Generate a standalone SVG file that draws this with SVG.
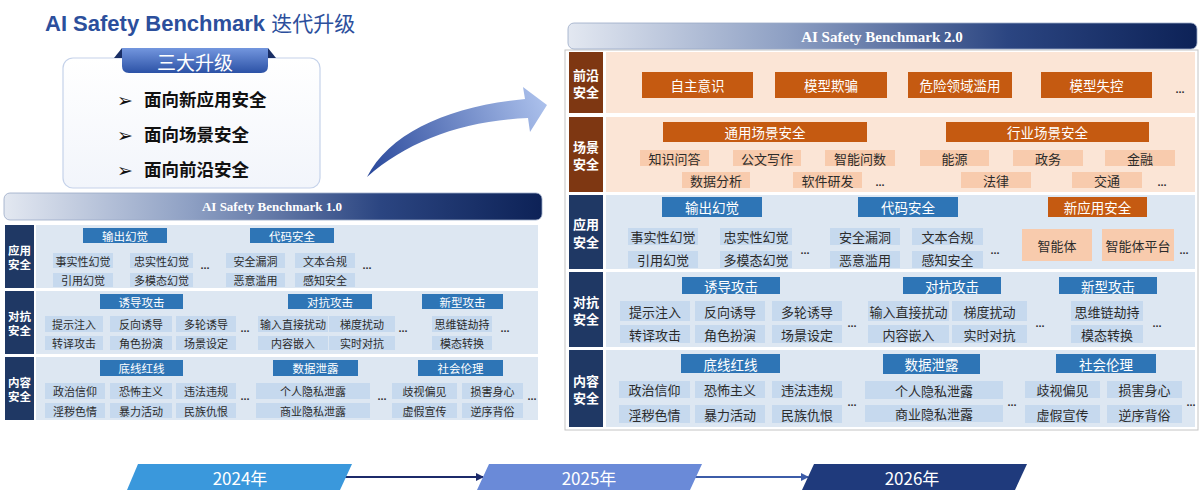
<svg xmlns="http://www.w3.org/2000/svg" width="1200" height="492" viewBox="0 0 1200 492">
<defs>
<linearGradient id="gBar" x1="0" y1="0" x2="1" y2="0">
<stop offset="0" stop-color="#e3e8f1"/><stop offset="0.35" stop-color="#8d9fc3"/><stop offset="0.7" stop-color="#2b4581"/><stop offset="1" stop-color="#0d2257"/>
</linearGradient>
<linearGradient id="gTab" x1="0" y1="0" x2="0" y2="1">
<stop offset="0" stop-color="#7396de"/><stop offset="1" stop-color="#2c52a6"/>
</linearGradient>
<linearGradient id="gBox" x1="0" y1="0" x2="0" y2="1">
<stop offset="0" stop-color="#ffffff"/><stop offset="1" stop-color="#f2f5fb"/>
</linearGradient>
<linearGradient id="gArrow" gradientUnits="userSpaceOnUse" x1="367" y1="177" x2="547" y2="105">
<stop offset="0" stop-color="#28479a"/><stop offset="1" stop-color="#acc1ec"/>
</linearGradient>
<marker id="mA1" viewBox="0 0 8 8" refX="7" refY="4" markerWidth="8" markerHeight="8" orient="auto" markerUnits="userSpaceOnUse">
<path d="M0,0 L8,4 L0,8 Z" fill="#1c2a6a"/>
</marker>
<marker id="mA2" viewBox="0 0 8 8" refX="7" refY="4" markerWidth="8" markerHeight="8" orient="auto" markerUnits="userSpaceOnUse">
<path d="M0,0 L8,4 L0,8 Z" fill="#3c5ca8"/>
</marker>
</defs>
<style>
.t{font-family:"Noto Sans CJK SC","Noto Sans",sans-serif;text-anchor:middle;dominant-baseline:central}
.s{font-size:11px;fill:#2b2b2b}
.sh{font-size:11.5px;fill:#ffffff}
.m{font-size:13px;fill:#2b2b2b}
.mh{font-size:13.5px;fill:#ffffff}
.lb{font-size:11.5px;font-weight:bold;fill:#ffffff}
.rb{font-size:13px;font-weight:bold;fill:#ffffff}
.dots{font-family:"Liberation Sans",sans-serif;font-weight:bold;font-size:11px;fill:#333;text-anchor:middle}
.nav{fill:#1f3864}
.brn{fill:#7e3712}
.cb{fill:#dde7f2}
.cp{fill:#fbe5d6}
.hb{fill:#2e75b6}
.ho{fill:#c55a11}
.ib{fill:#c6d9ee}
.io{fill:#f8cbad}
.bar{fill:url(#gBar)}
.bt{font-family:"Liberation Serif",serif;font-weight:bold;fill:#ffffff;text-anchor:middle;dominant-baseline:central}
.up{font-family:"Noto Sans CJK SC",sans-serif;font-weight:bold;font-size:17.5px;fill:#111}
.ar{font-family:"DejaVu Sans",sans-serif;font-size:19px;fill:#111}
.tl{font-family:"Noto Sans CJK SC",sans-serif;font-size:17px;fill:#ffffff;text-anchor:middle;dominant-baseline:central}
</style>
<rect width="1200" height="492" fill="#ffffff"/>

<!-- Title -->
<g id="title">
<text x="45" y="31" font-family="Liberation Sans,Arial,sans-serif" font-weight="bold" font-size="22" fill="#2c4f9c">AI Safety Benchmark <tspan font-family="Noto Sans CJK SC,sans-serif" font-weight="normal" font-size="21">迭代升级</tspan></text>
</g>

<!-- Upgrade box -->
<g id="upgrade-box">
<rect x="63" y="58" width="257" height="130" rx="10" fill="url(#gBox)" stroke="#c5d2ea" stroke-width="1.2"/>
<polygon points="114,58 122,48 122,58" fill="#1a2f66"/>
<polygon points="276,58 268,48 268,58" fill="#1a2f66"/>
<path d="M122,48 H268 V66 Q268,73 261,73 H129 Q122,73 122,66 Z" fill="url(#gTab)"/>
<text x="195" y="61" class="t" font-size="19" fill="#ffffff">三大升级</text>
<text x="117" y="107" class="ar">➢</text>
<text x="144" y="106" class="up">面向新应用安全</text>
<text x="117" y="142" class="ar">➢</text>
<text x="144" y="141" class="up">面向场景安全</text>
<text x="117" y="177" class="ar">➢</text>
<text x="144" y="176" class="up">面向前沿安全</text>
</g>

<!-- Curved arrow -->
<g id="curve-arrow">
<path d="M367,177 C390,132 450,106 525,99 L523,87 L547,105 L530,132 L528,118 C462,121 408,141 367,177 Z" fill="url(#gArrow)"/>
</g>

<!-- ===== Benchmark 1.0 ===== -->
<g id="bm1-header">
<rect x="4" y="193" width="538" height="27" rx="6" class="bar" stroke="#9aa9c6" stroke-width="0.8"/>
<text x="272" y="206.5" class="bt" font-size="13">AI Safety Benchmark 1.0</text>
</g>

<g id="bm1-row-app">
<rect x="5" y="225" width="29" height="63" class="nav"/>
<text x="19.5" y="249.5" class="t lb">应用<tspan x="19.5" dy="14">安全</tspan></text>
<rect x="36" y="225" width="502" height="63" class="cb"/>
</g>
<g id="bm1-row-adv">
<rect x="5" y="291" width="29" height="63" class="nav"/>
<text x="19.5" y="315.5" class="t lb">对抗<tspan x="19.5" dy="14">安全</tspan></text>
<rect x="36" y="291" width="502" height="63" class="cb"/>
</g>
<g id="bm1-row-content">
<rect x="5" y="357" width="29" height="63" class="nav"/>
<text x="19.5" y="381.5" class="t lb">内容<tspan x="19.5" dy="14">安全</tspan></text>
<rect x="36" y="357" width="502" height="63" class="cb"/>
</g>

<!-- row 1 -->
<g id="l-h-hallu"><rect x="83" y="228" width="84" height="15" class="hb"/><text x="125" y="235.5" class="t sh">输出幻觉</text></g>
<g id="l-h-code"><rect x="250" y="228" width="84" height="15" class="hb"/><text x="292" y="235.5" class="t sh">代码安全</text></g>
<g id="l-i-fact"><rect x="53" y="253" width="60" height="15" class="ib"/><text x="83" y="260.5" class="t s">事实性幻觉</text></g>
<g id="l-i-faith"><rect x="130" y="253" width="63" height="15" class="ib"/><text x="161.5" y="260.5" class="t s">忠实性幻觉</text></g>
<g id="l-i-cite"><rect x="53" y="273" width="60" height="14" class="ib"/><text x="83" y="280" class="t s">引用幻觉</text></g>
<g id="l-i-mm"><rect x="130" y="273" width="63" height="14" class="ib"/><text x="161.5" y="280" class="t s">多模态幻觉</text></g>
<text x="205" y="269" class="dots">...</text>
<g id="l-i-vuln"><rect x="226" y="253" width="59" height="15" class="ib"/><text x="255.5" y="260.5" class="t s">安全漏洞</text></g>
<g id="l-i-abuse"><rect x="226" y="273" width="59" height="14" class="ib"/><text x="255.5" y="280" class="t s">恶意滥用</text></g>
<g id="l-i-text"><rect x="295" y="253" width="60" height="15" class="ib"/><text x="325" y="260.5" class="t s">文本合规</text></g>
<g id="l-i-perc"><rect x="295" y="273" width="60" height="14" class="ib"/><text x="325" y="280" class="t s">感知安全</text></g>
<text x="367" y="269" class="dots">...</text>

<!-- row 2 -->
<g id="l-h-induce"><rect x="100" y="294" width="83" height="15" class="hb"/><text x="141.5" y="301.5" class="t sh">诱导攻击</text></g>
<g id="l-h-advatk"><rect x="288" y="294" width="84" height="15" class="hb"/><text x="330" y="301.5" class="t sh">对抗攻击</text></g>
<g id="l-h-newatk"><rect x="422" y="294" width="81" height="15" class="hb"/><text x="462.5" y="301.5" class="t sh">新型攻击</text></g>
<g id="l-i-inject"><rect x="45" y="316" width="58" height="16" class="ib"/><text x="74" y="324" class="t s">提示注入</text></g>
<g id="l-i-reverse"><rect x="110" y="316" width="62" height="16" class="ib"/><text x="141" y="324" class="t s">反向诱导</text></g>
<g id="l-i-multi"><rect x="176" y="316" width="60" height="16" class="ib"/><text x="206" y="324" class="t s">多轮诱导</text></g>
<g id="l-i-trans"><rect x="45" y="336" width="58" height="14" class="ib"/><text x="74" y="343" class="t s">转译攻击</text></g>
<g id="l-i-role"><rect x="110" y="336" width="62" height="14" class="ib"/><text x="141" y="343" class="t s">角色扮演</text></g>
<g id="l-i-scene"><rect x="176" y="336" width="60" height="14" class="ib"/><text x="206" y="343" class="t s">场景设定</text></g>
<text x="245" y="332" class="dots">...</text>
<g id="l-i-direct"><rect x="258" y="316" width="70" height="16" class="ib"/><text x="293" y="324" class="t s">输入直接扰动</text></g>
<g id="l-i-grad"><rect x="329" y="316" width="66" height="16" class="ib"/><text x="362" y="324" class="t s">梯度扰动</text></g>
<g id="l-i-embed"><rect x="258" y="336" width="70" height="14" class="ib"/><text x="293" y="343" class="t s">内容嵌入</text></g>
<g id="l-i-realtime"><rect x="329" y="336" width="66" height="14" class="ib"/><text x="362" y="343" class="t s">实时对抗</text></g>
<text x="403" y="332" class="dots">...</text>
<g id="l-i-cot"><rect x="432" y="316" width="60" height="16" class="ib"/><text x="462" y="324" class="t s">思维链劫持</text></g>
<g id="l-i-modal"><rect x="432" y="336" width="60" height="14" class="ib"/><text x="462" y="343" class="t s">模态转换</text></g>
<text x="505" y="332" class="dots">...</text>

<!-- row 3 -->
<g id="l-h-redline"><rect x="100" y="360" width="83" height="16" class="hb"/><text x="141.5" y="368" class="t sh">底线红线</text></g>
<g id="l-h-leak"><rect x="273" y="360" width="85" height="16" class="hb"/><text x="315.5" y="368" class="t sh">数据泄露</text></g>
<g id="l-h-ethic"><rect x="418" y="360" width="85" height="16" class="hb"/><text x="460.5" y="368" class="t sh">社会伦理</text></g>
<g id="l-i-pol"><rect x="45" y="383" width="60" height="16" class="ib"/><text x="75" y="391" class="t s">政治信仰</text></g>
<g id="l-i-terror"><rect x="110" y="383" width="62" height="16" class="ib"/><text x="141" y="391" class="t s">恐怖主义</text></g>
<g id="l-i-illegal"><rect x="176" y="383" width="60" height="16" class="ib"/><text x="206" y="391" class="t s">违法违规</text></g>
<g id="l-i-porn"><rect x="45" y="403" width="60" height="15" class="ib"/><text x="75" y="410.5" class="t s">淫秽色情</text></g>
<g id="l-i-violence"><rect x="110" y="403" width="62" height="15" class="ib"/><text x="141" y="410.5" class="t s">暴力活动</text></g>
<g id="l-i-ethnic"><rect x="176" y="403" width="60" height="15" class="ib"/><text x="206" y="410.5" class="t s">民族仇恨</text></g>
<text x="245" y="400" class="dots">...</text>
<g id="l-i-personal"><rect x="256" y="383" width="114" height="16" class="ib"/><text x="313" y="391" class="t s">个人隐私泄露</text></g>
<g id="l-i-business"><rect x="256" y="403" width="114" height="15" class="ib"/><text x="313" y="410.5" class="t s">商业隐私泄露</text></g>
<text x="382" y="400" class="dots">...</text>
<g id="l-i-bias"><rect x="392" y="383" width="65" height="16" class="ib"/><text x="424.5" y="391" class="t s">歧视偏见</text></g>
<g id="l-i-harm"><rect x="462" y="383" width="61" height="16" class="ib"/><text x="492.5" y="391" class="t s">损害身心</text></g>
<g id="l-i-false"><rect x="392" y="403" width="65" height="15" class="ib"/><text x="424.5" y="410.5" class="t s">虚假宣传</text></g>
<g id="l-i-against"><rect x="462" y="403" width="61" height="15" class="ib"/><text x="492.5" y="410.5" class="t s">逆序背俗</text></g>
<text x="532" y="400" class="dots">...</text>

<!-- ===== Benchmark 2.0 ===== -->
<rect x="565" y="50" width="633" height="380" fill="none" stroke="#c4c4c4" stroke-width="1"/>
<g id="bm2-header">
<rect x="568" y="23" width="629" height="26" rx="6" class="bar" stroke="#9aa9c6" stroke-width="0.8"/>
<text x="882" y="36.5" class="bt" font-size="15">AI Safety Benchmark 2.0</text>
</g>

<g id="bm2-row-frontier">
<rect x="569" y="52" width="34" height="61" class="brn"/>
<text x="586" y="74" class="t rb">前沿<tspan x="586" dy="17">安全</tspan></text>
<rect x="606" y="52" width="589" height="61" class="cp"/>
</g>
<g id="bm2-row-scene">
<rect x="569" y="117" width="34" height="75" class="brn"/>
<text x="586" y="146" class="t rb">场景<tspan x="586" dy="17">安全</tspan></text>
<rect x="606" y="117" width="589" height="75" class="cp"/>
</g>
<g id="bm2-row-app">
<rect x="569" y="195" width="34" height="74" class="nav"/>
<text x="586" y="223.5" class="t rb">应用<tspan x="586" dy="17">安全</tspan></text>
<rect x="606" y="195" width="589" height="74" class="cb"/>
</g>
<g id="bm2-row-adv">
<rect x="569" y="272" width="34" height="75" class="nav"/>
<text x="586" y="301" class="t rb">对抗<tspan x="586" dy="17">安全</tspan></text>
<rect x="606" y="272" width="589" height="75" class="cb"/>
</g>
<g id="bm2-row-content">
<rect x="569" y="350" width="34" height="77" class="nav"/>
<text x="586" y="380" class="t rb">内容<tspan x="586" dy="17">安全</tspan></text>
<rect x="606" y="350" width="589" height="77" class="cb"/>
</g>

<!-- frontier -->
<g id="r-f-aware"><rect x="642" y="72" width="111" height="26" class="ho"/><text x="697.5" y="85" class="t mh" font-size="14">自主意识</text></g>
<g id="r-f-deceive"><rect x="775" y="72" width="112" height="26" class="ho"/><text x="831" y="85" class="t mh" font-size="14">模型欺骗</text></g>
<g id="r-f-danger"><rect x="908" y="72" width="104" height="26" class="ho"/><text x="960" y="85" class="t mh" font-size="14">危险领域滥用</text></g>
<g id="r-f-control"><rect x="1041" y="72" width="111" height="26" class="ho"/><text x="1096.5" y="85" class="t mh" font-size="14">模型失控</text></g>
<text x="1180" y="93" class="dots" font-size="12">...</text>

<!-- scene -->
<g id="r-h-general"><rect x="663" y="122" width="204" height="20" class="ho"/><text x="765" y="132" class="t mh">通用场景安全</text></g>
<g id="r-h-industry"><rect x="946" y="122" width="203" height="20" class="ho"/><text x="1047.5" y="132" class="t mh">行业场景安全</text></g>
<g id="r-s-qa"><rect x="640" y="150" width="69" height="16" class="io"/><text x="674.5" y="158" class="t m">知识问答</text></g>
<g id="r-s-doc"><rect x="733" y="150" width="68" height="16" class="io"/><text x="767" y="158" class="t m">公文写作</text></g>
<g id="r-s-num"><rect x="825" y="150" width="70" height="16" class="io"/><text x="860" y="158" class="t m">智能问数</text></g>
<g id="r-s-energy"><rect x="920" y="150" width="69" height="16" class="io"/><text x="954.5" y="158" class="t m">能源</text></g>
<g id="r-s-gov"><rect x="1013" y="150" width="70" height="16" class="io"/><text x="1048" y="158" class="t m">政务</text></g>
<g id="r-s-fin"><rect x="1105" y="150" width="70" height="16" class="io"/><text x="1140" y="158" class="t m">金融</text></g>
<g id="r-s-data"><rect x="682" y="172" width="68" height="16" class="io"/><text x="716" y="180" class="t m">数据分析</text></g>
<g id="r-s-soft"><rect x="793" y="172" width="69" height="16" class="io"/><text x="827.5" y="180" class="t m">软件研发</text></g>
<text x="880" y="186" class="dots">...</text>
<g id="r-s-law"><rect x="961" y="172" width="70" height="16" class="io"/><text x="996" y="180" class="t m">法律</text></g>
<g id="r-s-traffic"><rect x="1072" y="172" width="70" height="16" class="io"/><text x="1107" y="180" class="t m">交通</text></g>
<text x="1162" y="186" class="dots">...</text>

<!-- application -->
<g id="r-h-hallu"><rect x="662" y="197" width="100" height="20" class="hb"/><text x="712" y="207" class="t mh">输出幻觉</text></g>
<g id="r-h-code"><rect x="858" y="197" width="100" height="20" class="hb"/><text x="908" y="207" class="t mh">代码安全</text></g>
<g id="r-h-newapp"><rect x="1048" y="197" width="99" height="20" class="ho"/><text x="1097.5" y="207" class="t mh">新应用安全</text></g>
<g id="r-i-fact"><rect x="628" y="228" width="70" height="17" class="ib"/><text x="663" y="236.5" class="t m">事实性幻觉</text></g>
<g id="r-i-faith"><rect x="720" y="228" width="72" height="17" class="ib"/><text x="756" y="236.5" class="t m">忠实性幻觉</text></g>
<g id="r-i-cite"><rect x="628" y="251" width="70" height="17" class="ib"/><text x="663" y="259.5" class="t m">引用幻觉</text></g>
<g id="r-i-mm"><rect x="720" y="251" width="72" height="17" class="ib"/><text x="756" y="259.5" class="t m">多模态幻觉</text></g>
<text x="805" y="254" class="dots">...</text>
<g id="r-i-vuln"><rect x="830" y="228" width="70" height="17" class="ib"/><text x="865" y="236.5" class="t m">安全漏洞</text></g>
<g id="r-i-abuse"><rect x="830" y="251" width="70" height="17" class="ib"/><text x="865" y="259.5" class="t m">恶意滥用</text></g>
<g id="r-i-text"><rect x="912" y="228" width="71" height="17" class="ib"/><text x="947.5" y="236.5" class="t m">文本合规</text></g>
<g id="r-i-perc"><rect x="912" y="251" width="71" height="17" class="ib"/><text x="947.5" y="259.5" class="t m">感知安全</text></g>
<text x="995" y="254" class="dots">...</text>
<g id="r-i-agent"><rect x="1022" y="229" width="70" height="32" class="io"/><text x="1057" y="245" class="t m">智能体</text></g>
<g id="r-i-platform"><rect x="1102" y="229" width="72" height="32" class="io"/><text x="1138" y="245" class="t m">智能体平台</text></g>
<text x="1184" y="254" class="dots">...</text>

<!-- adversarial -->
<g id="r-h-induce"><rect x="682" y="277" width="98" height="17" class="hb"/><text x="731" y="285.5" class="t mh">诱导攻击</text></g>
<g id="r-h-advatk"><rect x="903" y="277" width="98" height="17" class="hb"/><text x="952" y="285.5" class="t mh">对抗攻击</text></g>
<g id="r-h-newatk"><rect x="1059" y="277" width="98" height="17" class="hb"/><text x="1108" y="285.5" class="t mh">新型攻击</text></g>
<g id="r-i-inject"><rect x="620" y="301" width="70" height="20" class="ib"/><text x="655" y="311" class="t m">提示注入</text></g>
<g id="r-i-reverse"><rect x="695" y="301" width="70" height="20" class="ib"/><text x="730" y="311" class="t m">反向诱导</text></g>
<g id="r-i-multi"><rect x="772" y="301" width="70" height="20" class="ib"/><text x="807" y="311" class="t m">多轮诱导</text></g>
<g id="r-i-trans"><rect x="620" y="325" width="70" height="18" class="ib"/><text x="655" y="334" class="t m">转译攻击</text></g>
<g id="r-i-role"><rect x="695" y="325" width="70" height="18" class="ib"/><text x="730" y="334" class="t m">角色扮演</text></g>
<g id="r-i-scene"><rect x="772" y="325" width="70" height="18" class="ib"/><text x="807" y="334" class="t m">场景设定</text></g>
<text x="852" y="327" class="dots">...</text>
<g id="r-i-direct"><rect x="868" y="301" width="81" height="20" class="ib"/><text x="908.5" y="311" class="t m" font-size="12">输入直接扰动</text></g>
<g id="r-i-grad"><rect x="952" y="301" width="75" height="20" class="ib"/><text x="989.5" y="311" class="t m">梯度扰动</text></g>
<g id="r-i-embed"><rect x="868" y="325" width="81" height="18" class="ib"/><text x="908.5" y="334" class="t m">内容嵌入</text></g>
<g id="r-i-realtime"><rect x="952" y="325" width="75" height="18" class="ib"/><text x="989.5" y="334" class="t m">实时对抗</text></g>
<text x="1040" y="327" class="dots">...</text>
<g id="r-i-cot"><rect x="1071" y="301" width="72" height="20" class="ib"/><text x="1107" y="311" class="t m">思维链劫持</text></g>
<g id="r-i-modal"><rect x="1071" y="325" width="72" height="18" class="ib"/><text x="1107" y="334" class="t m">模态转换</text></g>
<text x="1157" y="327" class="dots">...</text>

<!-- content -->
<g id="r-h-redline"><rect x="681" y="354" width="99" height="19" class="hb"/><text x="730.5" y="363.5" class="t mh">底线红线</text></g>
<g id="r-h-leak"><rect x="883" y="354" width="97" height="20" class="hb"/><text x="931.5" y="364" class="t mh">数据泄露</text></g>
<g id="r-h-ethic"><rect x="1056" y="354" width="100" height="19" class="hb"/><text x="1106" y="363.5" class="t mh">社会伦理</text></g>
<g id="r-i-pol"><rect x="619" y="381" width="71" height="17" class="ib"/><text x="654.5" y="389.5" class="t m">政治信仰</text></g>
<g id="r-i-terror"><rect x="695" y="381" width="70" height="17" class="ib"/><text x="730" y="389.5" class="t m">恐怖主义</text></g>
<g id="r-i-illegal"><rect x="772" y="381" width="70" height="17" class="ib"/><text x="807" y="389.5" class="t m">违法违规</text></g>
<g id="r-i-porn"><rect x="619" y="405" width="71" height="18" class="ib"/><text x="654.5" y="414" class="t m">淫秽色情</text></g>
<g id="r-i-violence"><rect x="695" y="405" width="70" height="18" class="ib"/><text x="730" y="414" class="t m">暴力活动</text></g>
<g id="r-i-ethnic"><rect x="772" y="405" width="70" height="18" class="ib"/><text x="807" y="414" class="t m">民族仇恨</text></g>
<text x="852" y="406" class="dots">...</text>
<g id="r-i-personal"><rect x="865" y="381" width="138" height="18" class="ib"/><text x="934" y="390" class="t m">个人隐私泄露</text></g>
<g id="r-i-business"><rect x="865" y="405" width="138" height="17" class="ib"/><text x="934" y="413.5" class="t m">商业隐私泄露</text></g>
<text x="1012" y="406" class="dots">...</text>
<g id="r-i-bias"><rect x="1025" y="381" width="75" height="17" class="ib"/><text x="1062.5" y="389.5" class="t m">歧视偏见</text></g>
<g id="r-i-harm"><rect x="1107" y="381" width="75" height="17" class="ib"/><text x="1144.5" y="389.5" class="t m">损害身心</text></g>
<g id="r-i-false"><rect x="1025" y="405" width="75" height="18" class="ib"/><text x="1062.5" y="414" class="t m">虚假宣传</text></g>
<g id="r-i-against"><rect x="1107" y="405" width="75" height="18" class="ib"/><text x="1144.5" y="414" class="t m">逆序背俗</text></g>
<text x="1191" y="406" class="dots">...</text>

<!-- ===== Timeline ===== -->
<g id="connectors">
<line x1="345" y1="477" x2="483" y2="477" stroke="#1c2a6a" stroke-width="2" marker-end="url(#mA1)"/>
<line x1="694" y1="477" x2="808" y2="477" stroke="#3c5ca8" stroke-width="2" marker-end="url(#mA2)"/>
</g>
<g id="y2024"><polygon points="138,464 352,464 340,490 127,490" fill="#3a98dc"/><text x="240" y="477" class="tl">2024年</text></g>
<g id="y2025"><polygon points="489,464 702,464 690,490 477,490" fill="#6a8ad8"/><text x="589" y="477" class="tl">2025年</text></g>
<g id="y2026"><polygon points="814,464 1027,464 1015,490 802,490" fill="#1f3a7c"/><text x="912" y="477" class="tl">2026年</text></g>
</svg>
